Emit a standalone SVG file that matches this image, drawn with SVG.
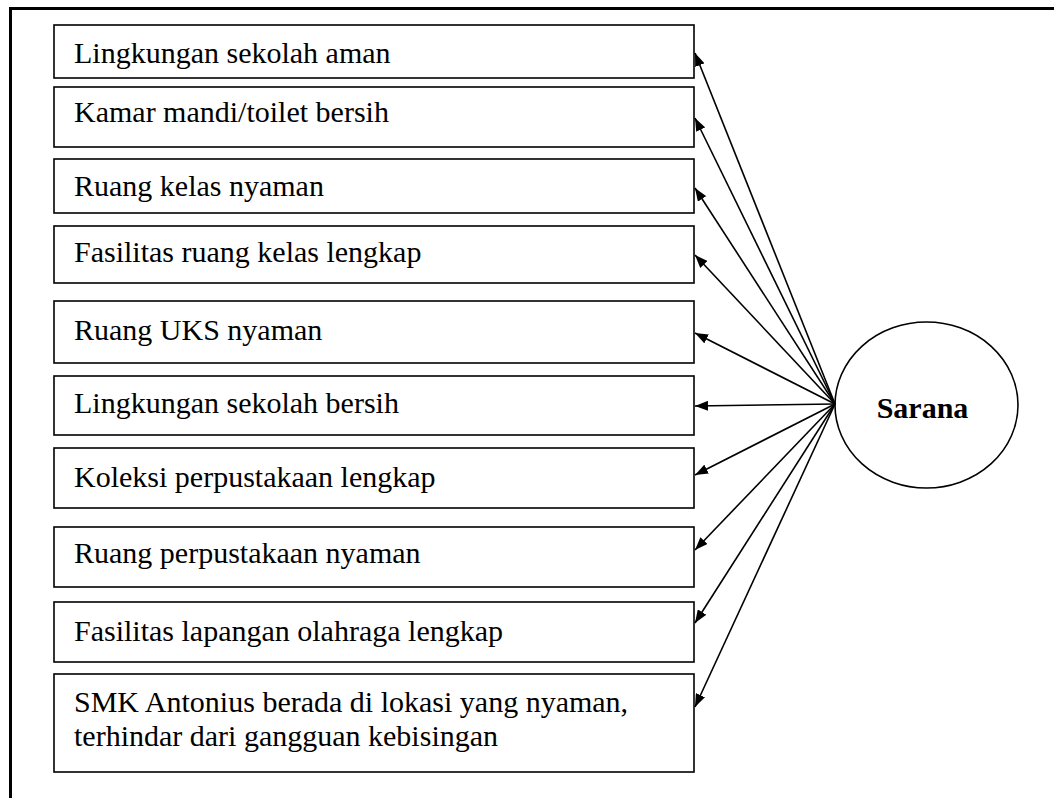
<svg xmlns="http://www.w3.org/2000/svg" width="1054" height="798" viewBox="0 0 1054 798">
  <style>
    .box { fill: #fff; stroke: #000; stroke-width: 1.6; }
    .lbl { font-family: "Liberation Serif", "Times New Roman", serif; font-size: 30px; fill: #000; }
    .hub { fill: #fff; stroke: #000; stroke-width: 1.6; }
    .hub-lbl { font-family: "Liberation Serif", "Times New Roman", serif; font-size: 30px; font-weight: bold; fill: #000; }
    .edge { stroke: #000; stroke-width: 1.6; fill: none; marker-end: url(#head); }
  </style>
  <defs>
    <marker id="head" markerUnits="userSpaceOnUse" viewBox="0 0 13 10" refX="13" refY="5" markerWidth="13" markerHeight="10" orient="auto">
      <path d="M0,0 L13,5 L0,10 z" fill="#000"/>
    </marker>
  </defs>

  <rect width="1054" height="798" fill="#fff"/>
  <!-- outer frame (right and bottom edges run past the canvas) -->
  <rect x="10.5" y="8.5" width="1200" height="900" fill="none" stroke="#000" stroke-width="3"/>

  <g id="n1"><rect class="box" x="54" y="25" width="640" height="53"/><text class="lbl" x="74" y="63">Lingkungan sekolah aman</text></g>
  <g id="n2"><rect class="box" x="54" y="87" width="640" height="60"/><text class="lbl" x="74" y="122">Kamar mandi/toilet bersih</text></g>
  <g id="n3"><rect class="box" x="54" y="159" width="640" height="54"/><text class="lbl" x="74" y="196">Ruang kelas nyaman</text></g>
  <g id="n4"><rect class="box" x="54" y="226" width="640" height="57"/><text class="lbl" x="74" y="262">Fasilitas ruang kelas lengkap</text></g>
  <g id="n5"><rect class="box" x="54" y="301" width="640" height="62"/><text class="lbl" x="74" y="340">Ruang UKS nyaman</text></g>
  <g id="n6"><rect class="box" x="54" y="376" width="640" height="59"/><text class="lbl" x="74" y="413">Lingkungan sekolah bersih</text></g>
  <g id="n7"><rect class="box" x="54" y="448" width="640" height="60"/><text class="lbl" x="74" y="487">Koleksi perpustakaan lengkap</text></g>
  <g id="n8"><rect class="box" x="54" y="527" width="640" height="60"/><text class="lbl" x="74" y="563">Ruang perpustakaan nyaman</text></g>
  <g id="n9"><rect class="box" x="54" y="602" width="640" height="60"/><text class="lbl" x="74" y="641">Fasilitas lapangan olahraga lengkap</text></g>
  <g id="n10"><rect class="box" x="54" y="674" width="640" height="98"/>
    <text class="lbl" x="74" y="712">SMK Antonius berada di lokasi yang nyaman,</text>
    <text class="lbl" x="74" y="746">terhindar dari gangguan kebisingan</text>
  </g>

  <g id="sarana">
    <ellipse class="hub" cx="926.5" cy="405" rx="91.5" ry="83"/>
    <text class="hub-lbl" x="922.5" y="418" text-anchor="middle">Sarana</text>
  </g>

  <g id="connectors">
    <line class="edge" x1="835" y1="404" x2="695" y2="53"/>
    <line class="edge" x1="835" y1="404" x2="695" y2="118"/>
    <line class="edge" x1="835" y1="404" x2="695" y2="188"/>
    <line class="edge" x1="835" y1="404" x2="695" y2="255"/>
    <line class="edge" x1="835" y1="404" x2="695" y2="333"/>
    <line class="edge" x1="835" y1="404" x2="695" y2="406"/>
    <line class="edge" x1="835" y1="404" x2="695" y2="475"/>
    <line class="edge" x1="835" y1="404" x2="695" y2="550"/>
    <line class="edge" x1="835" y1="404" x2="695" y2="623"/>
    <line class="edge" x1="835" y1="404" x2="695" y2="707"/>
  </g>
</svg>
